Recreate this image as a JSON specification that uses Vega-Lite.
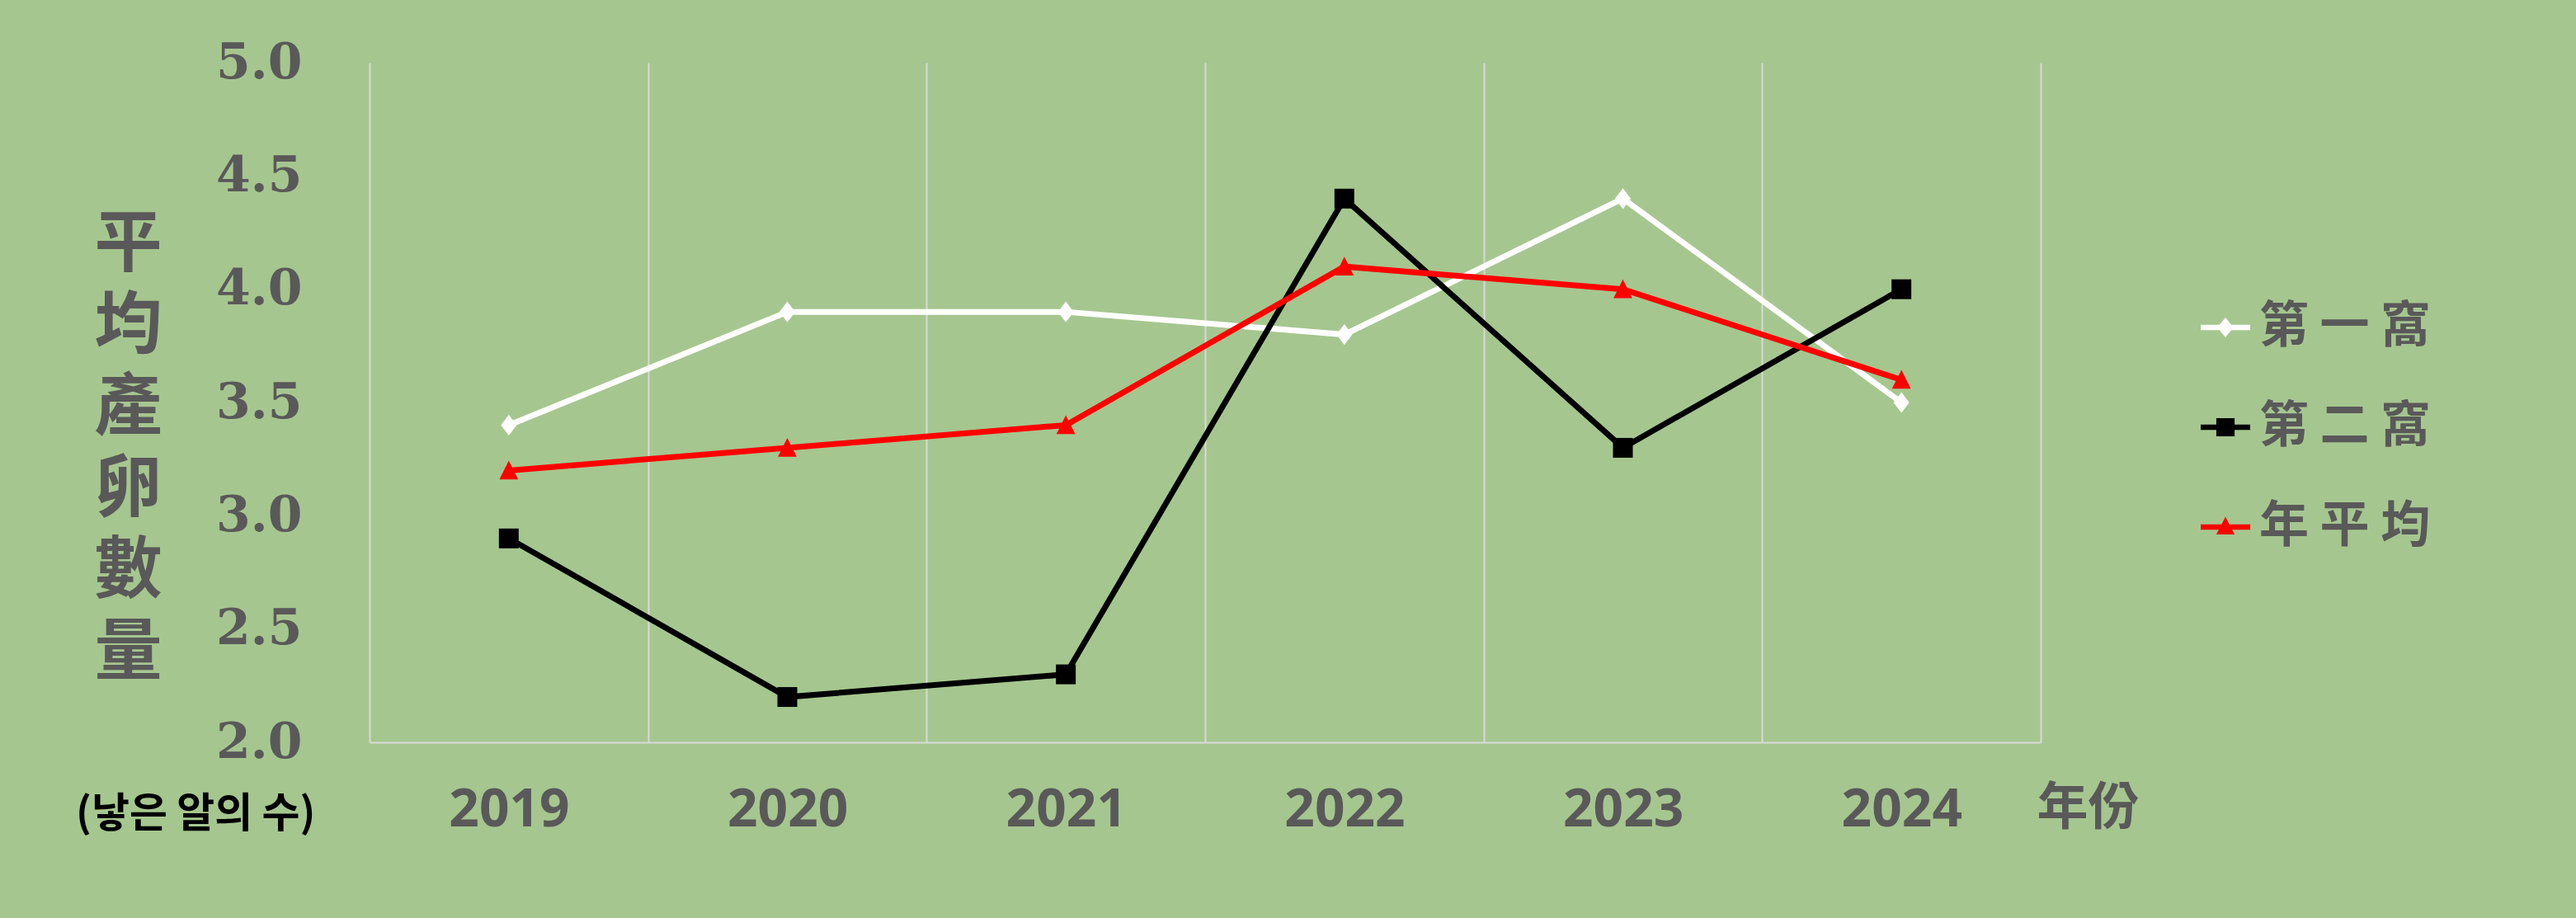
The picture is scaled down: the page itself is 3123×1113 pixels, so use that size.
{
  "$schema": "https://vega.github.io/schema/vega-lite/v6.json",
  "width": 2026,
  "height": 824,
  "autosize": {"type": "none"},
  "padding": {"left": 448, "top": 76, "right": 649, "bottom": 213},
  "background": "#a6c68f",
  "config": {"view": {"stroke": null}},
  "title": {
    "text": "(낳은 알의 수)",
    "orient": "bottom",
    "anchor": "start",
    "frame": "group",
    "dx": -356,
    "dy": -55,
    "font": "Noto Sans CJK KR",
    "fontSize": 50,
    "fontWeight": "bold",
    "color": "#000000"
  },
  "data": {
    "values": [
      {"series": "第一窩", "year": 2019, "value": 3.4},
      {"series": "第一窩", "year": 2020, "value": 3.9},
      {"series": "第一窩", "year": 2021, "value": 3.9},
      {"series": "第一窩", "year": 2022, "value": 3.8},
      {"series": "第一窩", "year": 2023, "value": 4.4},
      {"series": "第一窩", "year": 2024, "value": 3.5},
      {"series": "第二窩", "year": 2019, "value": 2.9},
      {"series": "第二窩", "year": 2020, "value": 2.2},
      {"series": "第二窩", "year": 2021, "value": 2.3},
      {"series": "第二窩", "year": 2022, "value": 4.4},
      {"series": "第二窩", "year": 2023, "value": 3.3},
      {"series": "第二窩", "year": 2024, "value": 4.0},
      {"series": "年平均", "year": 2019, "value": 3.2},
      {"series": "年平均", "year": 2020, "value": 3.3},
      {"series": "年平均", "year": 2021, "value": 3.4},
      {"series": "年平均", "year": 2022, "value": 4.1},
      {"series": "年平均", "year": 2023, "value": 4.0},
      {"series": "年平均", "year": 2024, "value": 3.6}
    ]
  },
  "encoding": {
    "x": {
      "field": "year",
      "type": "quantitative",
      "scale": {"domain": [2018.5, 2024.5], "nice": false, "zero": false},
      "axis": {
        "values": [2018.5, 2019.5, 2020.5, 2021.5, 2022.5, 2023.5, 2024.5],
        "labelExpr": "datum.value < 2024 ? format(datum.value + 0.5, 'd') : ''",
        "labelOffset": 169,
        "labelFlush": false,
        "labelOverlap": false,
        "labelBound": false,
        "labelFont": "Noto Sans",
        "labelFontSize": 64,
        "labelFontWeight": "bold",
        "labelColor": "#595959",
        "labelPadding": 50,
        "ticks": false,
        "grid": true,
        "gridColor": "#d9d9d9",
        "gridWidth": 2,
        "domain": true,
        "domainColor": "#d9d9d9",
        "domainWidth": 2,
        "title": "年份",
        "titleFont": "Noto Sans CJK TC",
        "titleFontSize": 62,
        "titleFontWeight": "bold",
        "titleColor": "#595959",
        "titleAlign": "left",
        "titleBaseline": "middle",
        "titleX": 2021,
        "titleY": 80
      }
    },
    "y": {
      "field": "value",
      "type": "quantitative",
      "scale": {"domain": [2, 5], "nice": false, "zero": false},
      "axis": {
        "values": [2, 2.5, 3, 3.5, 4, 4.5, 5],
        "format": ".1f",
        "labelFont": "DejaVu Serif",
        "labelFontSize": 60,
        "labelFontWeight": "bold",
        "labelColor": "#595959",
        "labelPadding": 82,
        "ticks": false,
        "grid": false,
        "domain": false,
        "title": ["平", "均", "產", "卵", "數", "量"],
        "titleFont": "Noto Sans CJK TC",
        "titleFontSize": 82,
        "titleFontWeight": "bold",
        "titleColor": "#595959",
        "titleAngle": 0,
        "titleAlign": "center",
        "titleBaseline": "top",
        "titleLineHeight": 99,
        "titleX": -293,
        "titleY": 180
      }
    }
  },
  "layer": [
    {
      "mark": {"type": "line"},
      "encoding": {
        "color": {
          "field": "series",
          "type": "nominal",
          "scale": {"domain": ["第一窩", "第二窩", "年平均"], "range": ["#ffffff", "#000000", "#ff0000"]},
          "legend": null
        },
        "strokeWidth": {
          "field": "series",
          "type": "nominal",
          "scale": {"domain": ["第一窩", "第二窩", "年平均"], "range": [7, 7, 8.5]},
          "legend": null
        },
        "order": {"field": "year"}
      }
    },
    {
      "mark": {"type": "point", "filled": true, "size": 576, "opacity": 1},
      "encoding": {
        "color": {
          "field": "series",
          "type": "nominal",
          "scale": {"domain": ["第一窩", "第二窩", "年平均"], "range": ["#ffffff", "#000000", "#ff0000"]},
          "legend": null
        },
        "shape": {
          "field": "series",
          "type": "nominal",
          "scale": {
            "domain": ["第一窩", "第二窩", "年平均"],
            "range": [
              "M0,-1.05L0.8,0L0,1.05L-0.8,0Z",
              "square",
              "M0,-1L0.95,0.9L-0.95,0.9Z"
            ]
          },
          "legend": null
        }
      }
    },
    {
      "mark": {"type": "point", "filled": true, "opacity": 0},
      "encoding": {
        "color": {
          "field": "series",
          "type": "nominal",
          "scale": {"domain": ["第一窩", "第二窩", "年平均"], "range": ["#ffffff", "#000000", "#ff0000"]},
          "legend": {
            "title": null,
            "orient": "none",
            "legendX": 2220,
            "legendY": 291,
            "padding": 0,
            "symbolSize": 3600,
            "symbolOpacity": 1,
            "symbolStrokeWidth": 0,
            "labelFont": "Noto Sans CJK TC",
            "labelFontSize": 60,
            "labelFontWeight": "bold",
            "labelColor": "#595959",
            "labelOffset": 11,
            "labelLimit": 0,
            "rowPadding": 61,
            "labelExpr": "join(split(datum.label, ''), ' ')"
          }
        },
        "shape": {
          "field": "series",
          "type": "nominal",
          "scale": {
            "domain": ["第一窩", "第二窩", "年平均"],
            "range": [
              "M-1,-0.11L1,-0.11L1,0.11L-1,0.11Z M0,-0.4L0.33,0L0,0.4L-0.33,0Z",
              "M-1,-0.11L1,-0.11L1,0.11L-1,0.11Z M-0.37,-0.37L0.37,-0.37L0.37,0.37L-0.37,0.37Z",
              "M-1,-0.11L1,-0.11L1,0.11L-1,0.11Z M0,-0.42L0.37,0.3L-0.37,0.3Z"
            ]
          },
          "legend": {
            "title": null,
            "orient": "none",
            "legendX": 2220,
            "legendY": 291,
            "padding": 0,
            "symbolSize": 3600,
            "symbolOpacity": 1,
            "symbolStrokeWidth": 0,
            "labelFont": "Noto Sans CJK TC",
            "labelFontSize": 60,
            "labelFontWeight": "bold",
            "labelColor": "#595959",
            "labelOffset": 11,
            "labelLimit": 0,
            "rowPadding": 61,
            "labelExpr": "join(split(datum.label, ''), ' ')"
          }
        }
      }
    }
  ],
  "resolve": {"scale": {"shape": "independent", "color": "independent"}}
}
